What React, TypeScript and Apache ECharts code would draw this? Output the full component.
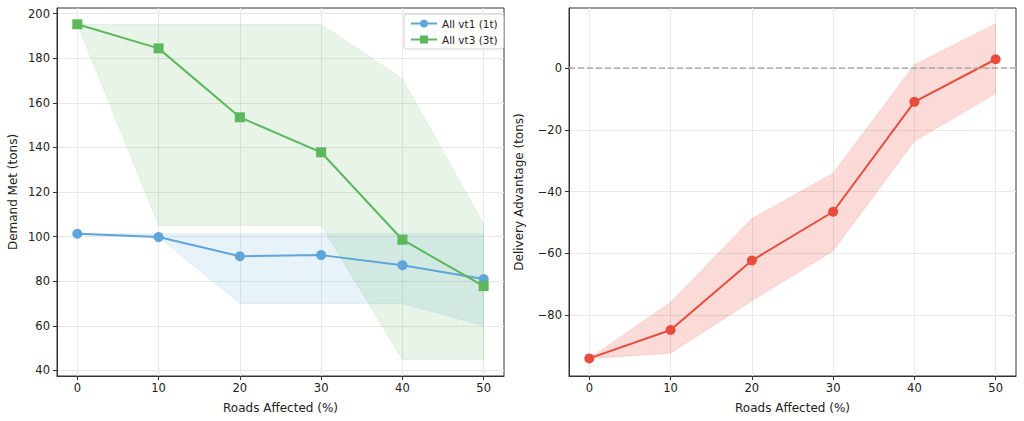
import React, { useEffect, useRef } from "react";
import * as echarts from "echarts";

// x: share of roads affected (%)
const roadsAffected = [0, 10, 20, 30, 40, 50];

// left panel: demand met (tons)
const vt1Mean = [101.3, 99.8, 91.2, 91.7, 87.2, 81.0];
const vt1Low = [101.3, 99.8, 70, 70, 70, 60];
const vt1High = [101.3, 101.3, 101.3, 101.3, 101.3, 101.3];

const vt3Mean = [195.2, 184.4, 153.5, 137.8, 98.6, 77.8];
const vt3Low = [195.2, 105, 105, 105, 45, 45];
const vt3High = [195.2, 195.2, 195.2, 195.2, 170.8, 105.6];

// right panel: delivery advantage (tons)
const advMean = [-94, -84.8, -62.3, -46.5, -10.9, 2.9];
const advLow = [-94, -92.3, -75.3, -59.2, -23.6, -8.2];
const advHigh = [-94, -75.8, -48.7, -34, 1.1, 14.4];

const xTicks = [0, 10, 20, 30, 40, 50];
const demandTicks = [40, 60, 80, 100, 120, 140, 160, 180, 200];
const advantageTicks = [-80, -60, -40, -20, 0];

const BLUE = "#5DA5DA";
const GREEN = "#5CB85C";
const RED = "#E74C3C";
const FONT = "DejaVu Sans";

const minus = (v: number) => String(v).replace("-", "\u2212");

const band = (gridIdx: number, low: number[], high: number[], fill: string, stroke: string) => ({
    type: "custom",
    xAxisIndex: gridIdx,
    yAxisIndex: gridIdx,
    silent: true,
    clip: false,
    z: 1,
    data: [[roadsAffected[0], low[0]]],
    renderItem: (_params: any, api: any) => {
        const top = roadsAffected.map((x, i) => api.coord([x, high[i]]));
        const bottom = roadsAffected.map((x, i) => api.coord([x, low[i]])).reverse();
        return {
            type: "polygon",
            shape: { points: top.concat(bottom) },
            style: { fill, stroke, lineWidth: 1 },
        };
    },
});

const xAxis = (gridIndex: number) => ({
    type: "value",
    gridIndex,
    min: -2.5,
    max: 52.5,
    name: "Roads Affected (%)",
    nameLocation: "middle",
    nameGap: 26,
    nameTextStyle: { fontFamily: FONT, fontSize: 12, color: "#222" },
    axisLine: { show: true, onZero: false, lineStyle: { color: "#333" } },
    axisTick: { show: true, length: 4, customValues: xTicks, lineStyle: { color: "#333" } },
    axisLabel: { customValues: xTicks, margin: 6, fontFamily: FONT, fontSize: 11.5, color: "#222" },
    splitLine: { show: true, lineStyle: { color: "#e8e8e8" } },
});

const yAxis = (gridIndex: number, min: number, max: number, ticks: number[], name: string, nameGap: number) => ({
    type: "value",
    gridIndex,
    min,
    max,
    name,
    nameLocation: "middle",
    nameGap,
    nameTextStyle: { fontFamily: FONT, fontSize: 12, color: "#222" },
    axisLine: { show: true, onZero: false, lineStyle: { color: "#333" } },
    axisTick: { show: true, length: 4, customValues: ticks, lineStyle: { color: "#333" } },
    axisLabel: {
        customValues: ticks,
        margin: 7,
        fontFamily: FONT,
        fontSize: 11.5,
        color: "#222",
        formatter: (v: number) => minus(v),
    },
    splitLine: { show: true, lineStyle: { color: "#e8e8e8" } },
});

const lineSeries = (name: string, gridIdx: number, values: number[], color: string, symbol: string, symbolSize: number) => ({
    type: "line",
    name,
    xAxisIndex: gridIdx,
    yAxisIndex: gridIdx,
    z: 3,
    data: roadsAffected.map((x, i) => [x, values[i]]),
    symbol,
    symbolSize,
    showSymbol: true,
    lineStyle: { color, width: 2 },
    itemStyle: { color },
});

const App: React.FC = () => {
    const chartRef = useRef<HTMLDivElement>(null);

    useEffect(() => {
        document.body.style.margin = "0";
        if (!chartRef.current) return;
        const chart = echarts.init(chartRef.current, null, { renderer: "svg" });

        const option = {
            animation: false,
            backgroundColor: "#fff",
            textStyle: { fontFamily: FONT },
            grid: [
                { left: 57, top: 8, width: 447, height: 368, show: true, borderColor: "#333", borderWidth: 1, backgroundColor: "transparent" },
                { left: 569, top: 8, width: 447, height: 368, show: true, borderColor: "#333", borderWidth: 1, backgroundColor: "transparent" },
            ],
            legend: {
                data: ["All vt1 (1t)", "All vt3 (3t)"],
                orient: "vertical",
                left: 404,
                top: 14,
                itemWidth: 26,
                itemHeight: 10,
                itemGap: 5,
                padding: [4, 6, 4, 6],
                backgroundColor: "rgba(255,255,255,0.85)",
                borderColor: "#d0d0d0",
                borderWidth: 1,
                borderRadius: 3,
                textStyle: { fontFamily: FONT, fontSize: 10.5, color: "#222" },
            },
            xAxis: [xAxis(0), xAxis(1)],
            yAxis: [
                yAxis(0, 37.5, 202.5, demandTicks, "Demand Met (tons)", 38),
                yAxis(1, -99.7, 19.5, advantageTicks, "Delivery Advantage (tons)", 44),
            ],
            series: [
                band(0, vt1Low, vt1High, "rgba(93,165,218,0.15)", "rgba(93,165,218,0.12)"),
                band(0, vt3Low, vt3High, "rgba(92,184,92,0.15)", "rgba(92,184,92,0.12)"),
                lineSeries("All vt1 (1t)", 0, vt1Mean, BLUE, "circle", 10),
                lineSeries("All vt3 (3t)", 0, vt3Mean, GREEN, "rect", 10),
                band(1, advLow, advHigh, "rgba(231,76,60,0.2)", "rgba(231,76,60,0.15)"),
                {
                    ...lineSeries("Delivery Advantage", 1, advMean, RED, "circle", 10),
                    markLine: {
                        silent: true,
                        symbol: "none",
                        label: { show: false },
                        lineStyle: { color: "#aaa", type: [6, 3], width: 1.5 },
                        data: [{ yAxis: 0 }],
                    },
                },
            ],
        };

        chart.setOption(option as any);
        return () => chart.dispose();
    }, []);

    return <div ref={chartRef} style={{ width: 1024, height: 421 }} />;
};

export default App;
